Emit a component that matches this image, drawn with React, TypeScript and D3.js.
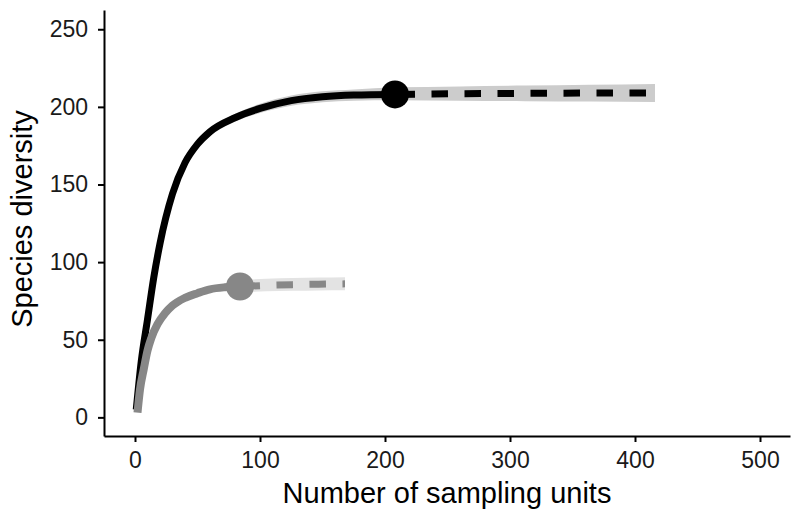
import React, { useEffect, useRef } from 'react'
import * as d3 from 'd3'

const xTicks = [0, 100, 200, 300, 400, 500]
const yTicks = [0, 50, 100, 150, 200, 250]

// larger assemblage (black): observed (rarefied) part
const blackObsX = [1, 5, 10, 15, 20, 30, 40, 50, 60, 80, 100, 125, 150, 175, 208]
const blackObsY = [5, 36, 63, 90, 112, 144, 164, 176, 184, 193, 199, 204, 206.5, 207.6, 208]
const blackObsLo = [4.5, 35, 62, 88.5, 110, 142, 162, 174, 182, 190.5, 196, 200.7, 203, 204, 204.2]
const blackObsHi = [5.5, 37, 64, 91.5, 114, 146, 166, 178, 186, 195.5, 202, 207.3, 210, 211.2, 212.6]
// extrapolated part
const blackExtX = [208, 260, 312, 364, 416]
const blackExtY = [208, 208.5, 208.7, 208.9, 209]
const blackExtLo = [204.2, 204, 203.7, 203.4, 203.1]
const blackExtHi = [212.6, 213.2, 213.8, 214.3, 214.8]

// smaller assemblage (grey)
const greyObsX = [2, 4, 7, 10, 13, 18, 24, 30, 40, 50, 60, 72, 84]
const greyObsY = [3, 18, 31, 43, 51, 60, 67, 72, 77, 80, 82.5, 83.8, 84.3]
const greyExtX = [84, 105, 126, 147, 168]
const greyExtY = [84.3, 85, 85.5, 85.8, 86]
const greyExtLo = [80.6, 81.2, 81.6, 81.8, 81.9]
const greyExtHi = [88.4, 89.3, 89.8, 90.1, 90.3]

const FONT = "'Liberation Sans', Arial, Helvetica, sans-serif"

function App() {
  const ref = useRef<SVGSVGElement>(null)
  const width = 795
  const height = 518

  useEffect(() => {
    document.body.style.margin = '0'
    drawChart()
  })

  function drawChart() {
    const svg = d3.select(ref.current)
    svg.selectAll('*').remove()

    const x = d3.scaleLinear().domain([-24.8, 524]).range([104, 790])
    const y = d3.scaleLinear().domain([-12, 262.4]).range([436, 10])

    const zip = (xs: number[], ys: number[]) => xs.map((v, i) => [v, ys[i]] as [number, number])
    const zip3 = (xs: number[], lo: number[], hi: number[]) => xs.map((v, i) => ({ x: v, lo: lo[i], hi: hi[i] }))

    const line = d3.line<[number, number]>()
      .x(d => x(d[0]))
      .y(d => y(d[1]))
      .curve(d3.curveMonotoneX)

    const area = d3.area<{ x: number, lo: number, hi: number }>()
      .x(d => x(d.x))
      .y0(d => y(d.lo))
      .y1(d => y(d.hi))
      .curve(d3.curveMonotoneX)

    // confidence bands
    svg.append('path')
      .attr('d', area(zip3(blackObsX, blackObsLo, blackObsHi)))
      .style('fill', '#cccccc')
    svg.append('path')
      .attr('d', area(zip3(blackExtX, blackExtLo, blackExtHi)))
      .style('fill', '#cccccc')

    // black curve
    svg.append('path')
      .attr('d', line(zip(blackObsX, blackObsY)))
      .style('fill', 'none')
      .style('stroke', '#000')
      .style('stroke-width', 7)
    svg.append('path')
      .attr('d', line(zip(blackExtX, blackExtY)))
      .style('fill', 'none')
      .style('stroke', '#000')
      .style('stroke-width', 7)
      .style('stroke-dasharray', '16.5 16.5')
      .style('stroke-dashoffset', 29.5)

    // grey band + curve
    svg.append('path')
      .attr('d', area(zip3(greyExtX, greyExtLo, greyExtHi)))
      .style('fill', '#e3e3e3')
    svg.append('path')
      .attr('d', line(zip(greyObsX, greyObsY)))
      .style('fill', 'none')
      .style('stroke', '#878787')
      .style('stroke-width', 8)
    svg.append('path')
      .attr('d', line(zip(greyExtX, greyExtY)))
      .style('fill', 'none')
      .style('stroke', '#878787')
      .style('stroke-width', 7)
      .style('stroke-dasharray', '16.5 16.5')
      .style('stroke-dashoffset', 29.5)

    // reference sample points
    svg.append('circle')
      .attr('cx', x(blackObsX[blackObsX.length - 1]))
      .attr('cy', y(blackObsY[blackObsY.length - 1]))
      .attr('r', 14)
      .style('fill', '#000')
    svg.append('circle')
      .attr('cx', x(greyObsX[greyObsX.length - 1]))
      .attr('cy', y(greyObsY[greyObsY.length - 1]))
      .attr('r', 14)
      .style('fill', '#878787')

    // axes
    const xAxis = svg.append('g')
      .attr('transform', 'translate(0,436)')
      .call(d3.axisBottom(x).tickValues(xTicks).tickSize(6).tickSizeOuter(0).tickPadding(10))
    const yAxis = svg.append('g')
      .attr('transform', 'translate(104,0)')
      .call(d3.axisLeft(y).tickValues(yTicks).tickSize(6).tickSizeOuter(0).tickPadding(10))

    for (const g of [xAxis, yAxis]) {
      g.select('.domain').style('stroke', '#000').style('stroke-width', 2)
      g.selectAll('.tick line').style('stroke', '#000').style('stroke-width', 2)
      g.selectAll('.tick text')
        .style('font-family', FONT)
        .style('font-size', '23px')
        .style('fill', '#1a1a1a')
    }

    // axis titles
    svg.append('text')
      .attr('x', 447)
      .attr('y', 503)
      .style('text-anchor', 'middle')
      .style('font-family', FONT)
      .style('font-size', '29px')
      .style('fill', '#000')
      .text('Number of sampling units')

    svg.append('text')
      .attr('transform', 'translate(32,219) rotate(-90)')
      .style('text-anchor', 'middle')
      .style('font-family', FONT)
      .style('font-size', '29px')
      .style('fill', '#000')
      .text('Species diversity')
  }

  return <svg ref={ref} width={width} height={height} style={{ display: 'block', background: 'white' }} />
}

export default App
